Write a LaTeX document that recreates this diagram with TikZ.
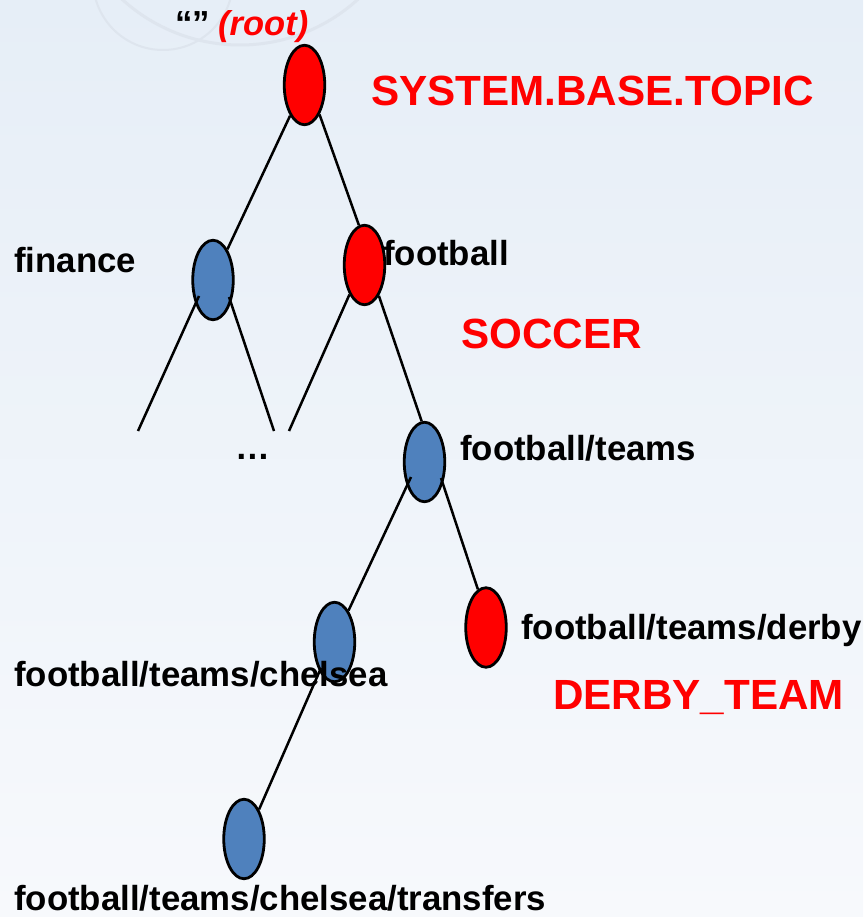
\documentclass[tikz,border=0pt]{standalone}
\usepackage{fontspec}
\setmainfont{Liberation Sans}
\usetikzlibrary{shapes.geometric,calc}
\definecolor{nodeblue}{RGB}{79,129,189}
\definecolor{bgtop}{RGB}{230,238,247}
\definecolor{bgbot}{RGB}{247,249,252}
\definecolor{arcgray}{RGB}{222,229,238}
\begin{document}
\begin{tikzpicture}[x=1pt,y=-1pt,
  topic/.style={ellipse, draw=black, line width=2.8pt, minimum width=40.5pt, minimum height=79.5pt, inner sep=0pt},
  redtopic/.style={topic, fill=red},
  bluetopic/.style={topic, fill=nodeblue},
  edge/.style={line width=2.5pt, black},
  lbl/.style={anchor=base west, inner sep=0pt, text=black, font=\fontsize{34.8}{40}\selectfont\bfseries},
  tag/.style={anchor=base west, inner sep=0pt, text=red, font=\fontsize{42.2}{48}\selectfont\bfseries},
  rootstyle/.style={anchor=base west, inner sep=0pt, text=red, font=\fontsize{34.5}{40}\selectfont\bfseries\itshape}]
\useasboundingbox (0,0) rectangle (863,917);
\fill[top color=bgtop, bottom color=bgbot] (0,0) rectangle (863,917);
\begin{scope}
\clip (0,0) rectangle (863,917);
\draw[arcgray, line width=3pt] (240,-130) circle[radius=175];
\draw[arcgray, line width=2pt] (163,-20) circle[radius=70];
\end{scope}

% topic nodes
\node[redtopic] (root) at (304.5,85) {};
\node[bluetopic] (finance) at (213,280) {};
\node[redtopic] (football) at (364.5,265) {};
\node[bluetopic] (teams) at (424.5,462) {};
\node[redtopic] (derby) at (486,627.5) {};
\node[bluetopic] (chelsea) at (334.5,642) {};
\node[bluetopic] (transfers) at (244,839) {};

% free ends
\coordinate (fa1) at (138,431);
\coordinate (fa2) at (274,431);
\coordinate (fb1) at (289,431);

% connectors
\draw[edge] (root) -- (finance);
\draw[edge] (root.-63) -- (football.98);
\draw[edge] ($(finance)+(-14,16)$) -- (fa1);
\draw[edge] ($(finance)+(16,17)$) -- (fa2);
\draw[edge] (football.-117) -- (fb1);
\draw[edge] (football.-65) -- (teams.94);
\draw[edge] ($(teams)+(-13.5,15)$) -- (chelsea.66);
\draw[edge] ($(teams)+(16.5,16)$) -- (derby.102);
\draw[edge] ($(chelsea)+(-13.5,26)$) -- (transfers.63);

% labels
\node[lbl] (quotes) at (175,36) {“”};
\node[rootstyle] (rootlbl) at (218,36) {(root)};
\node[tag] (systag) at (371,106) {SYSTEM.BASE.TOPIC};
\node[lbl] (financelbl) at (14,272) {finance};
\node[lbl] (footballlbl) at (383,265) {football};
\node[tag] (soccertag) at (461,348) {SOCCER};
\node[lbl] (dots) at (235,459) {…};
\node[lbl] (teamslbl) at (460,460) {football/teams};
\node[lbl] (derbylbl) at (521,639) {football/teams/derby};
\node[tag] (derbytag) at (553,709) {DERBY\_TEAM};
\node[lbl] (chelsealbl) at (14,686) {football/teams/chelsea};
\node[lbl] (transferslbl) at (14,910) {football/teams/chelsea/transfers};
\end{tikzpicture}
\end{document}
